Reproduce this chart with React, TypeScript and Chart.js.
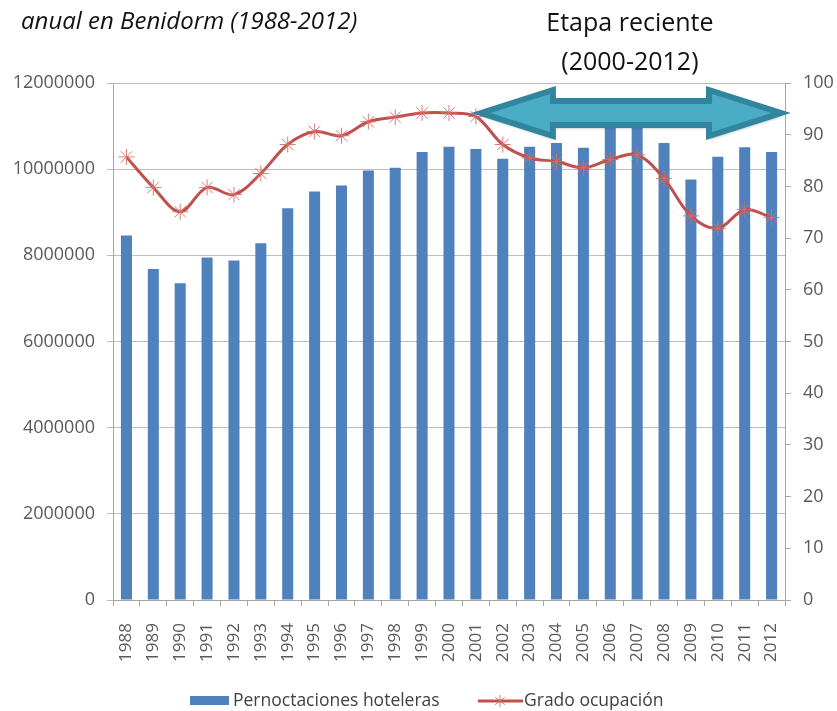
import React, { useEffect, useRef } from 'react';
import { Chart, registerables } from 'chart.js';

Chart.register(...registerables);

const W = 837;
const H = 711;

const years = [
  '1988', '1989', '1990', '1991', '1992', '1993', '1994', '1995', '1996', '1997',
  '1998', '1999', '2000', '2001', '2002', '2003', '2004', '2005', '2006', '2007',
  '2008', '2009', '2010', '2011', '2012',
];

const pernoctaciones = [
  8460000, 7680000, 7350000, 7950000, 7880000, 8280000, 9090000, 9480000, 9620000, 9970000,
  10030000, 10400000, 10520000, 10470000, 10240000, 10520000, 10610000, 10500000, 11100000, 11050000,
  10610000, 9760000, 10290000, 10510000, 10400000,
];

const ocupacion = [
  85.7, 79.8, 75.1, 79.8, 78.4, 82.5, 88.1, 90.6, 89.8, 92.5,
  93.4, 94.2, 94.2, 93.5, 88.1, 85.5, 84.8, 83.6, 85.2, 86.1,
  81.5, 74.3, 71.9, 75.5, 74.0,
];

const leftAxis = { min: 0, max: 12000000, step: 2000000 };
const rightAxis = { min: 0, max: 100, step: 10 };

const titleText = 'anual en Benidorm (1988-2012)';
const noteLines = ['Etapa reciente', '(2000-2012)'];
const arrowFrom = '2001';
const arrowLevel = 94.2;

const BAR = '#4f81bd';
const LINE = '#c0504d';
const FONT = "'Open Sans', 'DejaVu Sans', sans-serif";
const TICK_COLOR = '#595959';

export default function App() {
  const ref = useRef<HTMLCanvasElement | null>(null);

  useEffect(() => {
    const canvas = ref.current;
    if (!canvas) return;

    const overlay = {
      id: 'overlay',
      afterDatasetsDraw(chart: any) {
        const ctx = chart.ctx as CanvasRenderingContext2D;
        const xs = chart.scales.x;
        const yr = chart.scales.y1;
        const xl = xs.getPixelForValue(years.indexOf(arrowFrom)) + 5;
        const xr = chart.chartArea.right - 4;
        const yc = yr.getPixelForValue(arrowLevel);
        const head = 72;
        const hh = 23;
        const sh = 12;
        ctx.save();
        ctx.beginPath();
        ctx.moveTo(xl, yc);
        ctx.lineTo(xl + head, yc - hh);
        ctx.lineTo(xl + head, yc - sh);
        ctx.lineTo(xr - head, yc - sh);
        ctx.lineTo(xr - head, yc - hh);
        ctx.lineTo(xr, yc);
        ctx.lineTo(xr - head, yc + hh);
        ctx.lineTo(xr - head, yc + sh);
        ctx.lineTo(xl + head, yc + sh);
        ctx.lineTo(xl + head, yc + hh);
        ctx.closePath();
        ctx.shadowColor = 'rgba(40,70,80,0.45)';
        ctx.shadowBlur = 3;
        ctx.shadowOffsetY = 3;
        ctx.shadowOffsetX = 1;
        ctx.fillStyle = '#4bacc6';
        ctx.fill();
        ctx.shadowColor = 'transparent';
        ctx.lineWidth = 6;
        ctx.lineJoin = 'miter';
        ctx.strokeStyle = '#31859c';
        ctx.stroke();
        ctx.restore();

        // notes above the arrow
        ctx.save();
        ctx.fillStyle = '#111';
        ctx.font = `25px ${FONT}`;
        ctx.textAlign = 'center';
        ctx.textBaseline = 'alphabetic';
        const cx = (xl + xr) / 2 - 1;
        ctx.fillText(noteLines[0], cx, 31);
        ctx.fillText(noteLines[1], cx, 70);
        ctx.restore();
      },
      afterDraw(chart: any) {
        const ctx = chart.ctx as CanvasRenderingContext2D;
        ctx.save();
        // title fragment
        ctx.fillStyle = '#111';
        ctx.font = `italic 24px ${FONT}`;
        ctx.textAlign = 'left';
        ctx.textBaseline = 'alphabetic';
        ctx.fillText(titleText, 21, 29);

        // legend
        const ds = chart.data.datasets;
        ctx.font = `17.5px ${FONT}`;
        ctx.textBaseline = 'middle';
        const ly = 701;
        let x = 190;
        ctx.fillStyle = BAR;
        ctx.fillRect(x, ly - 5, 39, 9);
        ctx.fillStyle = '#404040';
        ctx.fillText(ds[0].label, x + 43, ly);
        x = 478;
        ctx.strokeStyle = LINE;
        ctx.lineWidth = 3;
        ctx.beginPath();
        ctx.moveTo(x, ly);
        ctx.lineTo(x + 45, ly);
        ctx.stroke();
        ctx.strokeStyle = 'rgba(214,110,106,0.9)';
        ctx.lineWidth = 1;
        const sx = x + 22;
        const r = 6;
        ctx.beginPath();
        ctx.moveTo(sx, ly - r); ctx.lineTo(sx, ly + r);
        ctx.moveTo(sx - r * 0.8, ly - r * 0.6); ctx.lineTo(sx + r * 0.8, ly + r * 0.6);
        ctx.moveTo(sx - r * 0.8, ly + r * 0.6); ctx.lineTo(sx + r * 0.8, ly - r * 0.6);
        ctx.stroke();
        ctx.fillStyle = '#404040';
        ctx.fillText(ds[1].label, x + 46, ly);
        ctx.restore();
      },
    };

    const chart = new Chart(canvas, {
      type: 'bar',
      data: {
        labels: years,
        datasets: [
          {
            type: 'bar',
            label: 'Pernoctaciones hoteleras',
            data: pernoctaciones,
            backgroundColor: BAR,
            borderWidth: 0,
            barPercentage: 0.41,
            categoryPercentage: 1,
            yAxisID: 'y',
            order: 2,
          },
          {
            type: 'line',
            label: 'Grado ocupación',
            data: ocupacion,
            borderColor: LINE,
            borderWidth: 3,
            tension: 0.35,
            pointStyle: 'star',
            pointRadius: 8,
            pointBorderWidth: 1,
            pointBorderColor: 'rgba(214,110,106,0.9)',
            pointBackgroundColor: 'rgba(214,110,106,0.9)',
            yAxisID: 'y1',
            order: 1,
          } as any,
        ],
      },
      options: {
        responsive: false,
        devicePixelRatio: 1,
        animation: false,
        layout: { padding: { top: 83, left: 0, right: 0, bottom: 0 } },
        plugins: {
          legend: { display: false },
          tooltip: { enabled: false },
          title: { display: false },
        },
        scales: {
          x: {
            type: 'category',
            offset: true,
            grid: {
              display: true,
              drawOnChartArea: false,
              offset: true,
              tickLength: 6,
              color: '#a6a6a6',
            },
            border: { color: '#a6a6a6' },
            ticks: {
              autoSkip: false,
              minRotation: 90,
              maxRotation: 90,
              padding: 17,
              color: TICK_COLOR,
              font: { family: FONT, size: 17 },
            },
            afterFit: (s: any) => { s.height = 111; },
          },
          y: {
            position: 'left',
            min: leftAxis.min,
            max: leftAxis.max,
            ticks: {
              stepSize: leftAxis.step,
              padding: 12,
              color: TICK_COLOR,
              font: { family: FONT, size: 18 },
              callback: (v: any) => String(v),
            },
            grid: { color: '#bdbdbd', tickLength: 6 },
            border: { color: '#a6a6a6' },
            afterFit: (s: any) => { s.width = 113; },
          },
          y1: {
            position: 'right',
            min: rightAxis.min,
            max: rightAxis.max,
            ticks: {
              stepSize: rightAxis.step,
              padding: 12,
              color: TICK_COLOR,
              font: { family: FONT, size: 18 },
            },
            grid: { drawOnChartArea: false, tickLength: 6, color: '#a6a6a6' },
            border: { color: '#a6a6a6' },
            afterFit: (s: any) => { s.width = 52; },
          },
        },
      } as any,
      plugins: [overlay],
    });

    return () => chart.destroy();
  }, []);

  return (
    <div style={{ position: 'absolute', left: 0, top: 0, width: W, height: H, background: '#fff' }}>
      <canvas ref={ref} width={W} height={H} style={{ width: W, height: H, display: 'block' }} />
    </div>
  );
}
